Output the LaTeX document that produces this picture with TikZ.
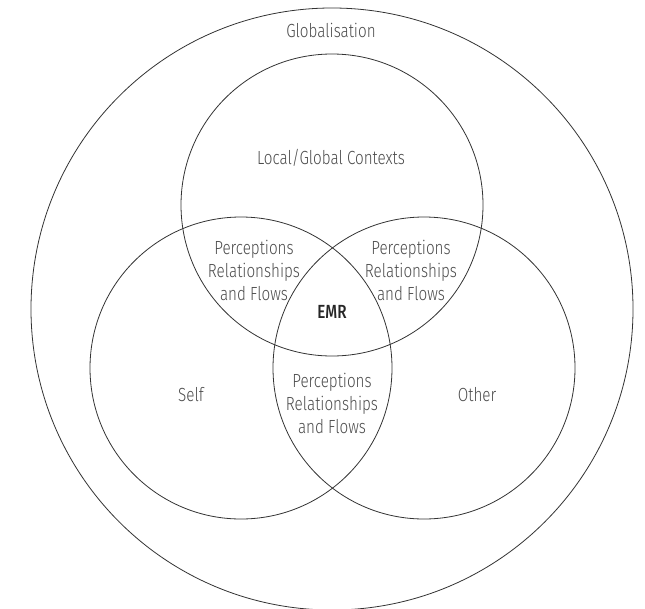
\documentclass[tikz,border=0pt]{standalone}
\usepackage{fontspec}
\setmainfont{Fira Sans}[UprightFont=* Light, BoldFont=* Medium, FakeStretch=0.8]
\begin{document}
\begin{tikzpicture}[x=1pt,y=-1pt,
  ring/.style={draw=black!80, line width=0.8pt},
  label/.style={text=black!70, font=\fontsize{19}{23}\selectfont, align=center, inner sep=0pt},
  core/.style={text=black!85, font=\fontsize{19}{23}\selectfont\bfseries, inner sep=0pt}]
  \useasboundingbox[fill=white] (0,0) rectangle (645,608);

  % outer context and the three overlapping spheres
  \draw[ring] (332,309) circle[radius=301];
  \draw[ring] (332,205) circle[radius=151];
  \draw[ring] (241,368) circle[radius=151];
  \draw[ring] (424,368) circle[radius=151];

  \node[label] (glob) at (331,30) {Globalisation};
  \node[label] (ctx) at (331,158) {Local/Global Contexts};
  \node[label] (self) at (191,395) {Self};
  \node[label] (other) at (477,395) {Other};

  \node[label] (prfL) at (254,270) {Perceptions\\Relationships\\and Flows};
  \node[label] (prfR) at (411,270) {Perceptions\\Relationships\\and Flows};
  \node[label] (prfB) at (332,403) {Perceptions\\Relationships\\and Flows};

  \node[core] (emr) at (332,312) {EMR};
\end{tikzpicture}
\end{document}
